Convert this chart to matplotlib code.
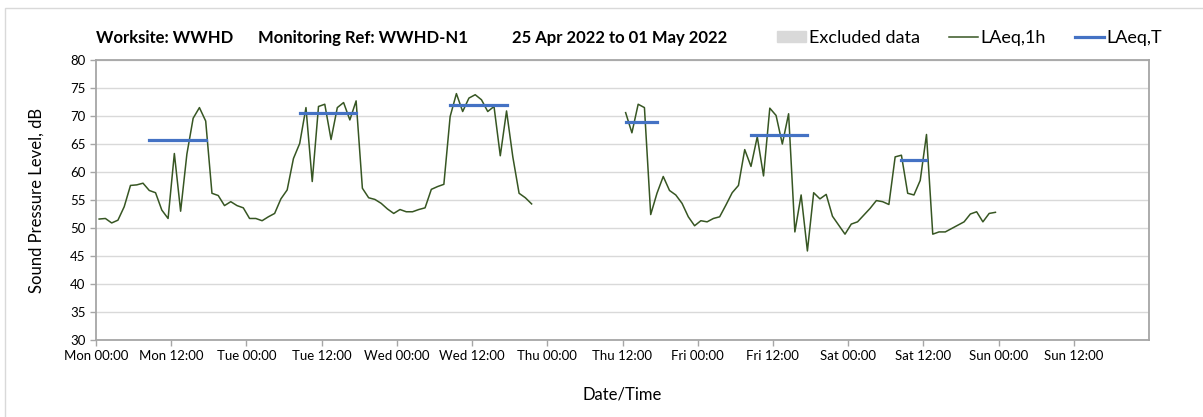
import numpy as np
import matplotlib
matplotlib.use("Agg")
import matplotlib.pyplot as plt
from matplotlib.patches import Patch, Rectangle
from matplotlib.lines import Line2D

plt.rcParams['font.family'] = ['Lato', 'DejaVu Sans']

# hourly LAeq,1h from Mon 25 Apr 2022 00:00 (NaN = no data)
nan = np.nan
laeq_1h = [
    51.6, 51.7, 50.9, 51.4, 53.8, 57.6, 57.7, 58.0, 56.7, 56.3, 53.2, 51.7,
    63.3, 53.0, 63.2, 69.6, 71.5, 69.1, 56.2, 55.8, 54.0, 54.7, 54.0, 53.6,
    51.7, 51.7, 51.3, 52.0, 52.6, 55.2, 56.8, 62.4, 65.1, 71.5, 58.3, 71.7,
    72.1, 65.8, 71.5, 72.4, 69.3, 72.7, 57.1, 55.4, 55.1, 54.4, 53.4, 52.6,
    53.3, 52.9, 52.9, 53.3, 53.6, 56.9, 57.4, 57.8, 69.9, 74.0, 70.8, 73.2,
    73.8, 72.9, 70.8, 71.7, 62.9, 70.9, 62.7, 56.2, 55.4, 54.3, nan, nan,
    nan, nan, nan, nan, nan, nan, nan, nan, nan, nan, nan, nan,
    70.6, 67.0, 72.1, 71.5, 52.4, 56.2, 59.2, 56.7, 55.9, 54.4, 52.0, 50.4,
    51.3, 51.1, 51.7, 52.0, 54.1, 56.3, 57.6, 64.0, 61.0, 66.3, 59.3, 71.4,
    70.1, 65.0, 70.4, 49.3, 55.9, 45.9, 56.3, 55.2, 56.0, 52.1, 50.5, 48.9,
    50.7, 51.1, 52.3, 53.5, 54.9, 54.7, 54.2, 62.7, 63.0, 56.2, 55.9, 58.5,
    66.7, 48.9, 49.3, 49.3, 49.9, 50.5, 51.1, 52.5, 52.9, 51.1, 52.6, 52.8,
]

# LAeq,T periods (hours from Mon 00:00)
laeq_t_start = [8, 32, 56, 84, 104, 128]
laeq_t_end = [18, 42, 66, 90, 114, 133]
laeq_t_level = [65.7, 70.5, 71.9, 69.0, 66.6, 62.2]

tick_labels = ["Mon 00:00", "Mon 12:00", "Tue 00:00", "Tue 12:00", "Wed 00:00",
               "Wed 12:00", "Thu 00:00", "Thu 12:00", "Fri 00:00", "Fri 12:00",
               "Sat 00:00", "Sat 12:00", "Sun 00:00", "Sun 12:00"]

green = "#375623"
blue = "#4472c4"

fig = plt.figure(figsize=(12.03, 4.17), dpi=100)
ax = fig.add_axes([96 / 1203, 77 / 417, 1053 / 1203, 280 / 417])

hours = np.arange(len(laeq_1h)) + 0.5
ax.plot(hours, laeq_1h, color=green, lw=1.1, zorder=3)
for s, e, v in zip(laeq_t_start, laeq_t_end, laeq_t_level):
    ax.plot([s + 0.5, e - 0.5], [v, v], color=blue, lw=2.3,
            solid_capstyle='projecting', zorder=4)

ax.set_xlim(0, 168)
ax.set_ylim(30, 80)
ax.set_yticks(np.arange(30, 81, 5))
ax.set_xticks(np.arange(0, 168, 12))
ax.set_xticklabels(tick_labels)
ax.set_xticks(np.arange(0, 169, 24), minor=True)
ax.tick_params(axis='both', labelsize=9.5, color='#a6a6a6', length=4,
               width=1, direction='out')
ax.tick_params(axis='x', which='minor', length=0)
ax.grid(axis='y', color='#d9d9d9', lw=1)
ax.grid(axis='x', which='minor', color='#d9d9d9', lw=1)
ax.set_axisbelow(True)
for sp in ax.spines.values():
    sp.set_color('#a6a6a6')
    sp.set_linewidth(1.3)

ax.set_ylabel("Sound Pressure Level, dB", fontsize=12, labelpad=18)
ax.set_xlabel("Date/Time", fontsize=12, labelpad=17)

# chart border
fig.patches.append(Rectangle((5 / 1203, -0.2), 1.2, 0.2 + 409 / 417,
                             transform=fig.transFigure, fill=False,
                             edgecolor='#d9d9d9', lw=1))

ty = 1 - 38 / 417
fig.text(96 / 1203, ty, "Worksite: WWHD", fontsize=12, fontweight='bold', va='center')
fig.text(258 / 1203, ty, "Monitoring Ref: WWHD-N1", fontsize=12, fontweight='bold', va='center')
fig.text(512 / 1203, ty, "25 Apr 2022 to 01 May 2022", fontsize=12, fontweight='bold', va='center')

handles = [Patch(color='#d9d9d9', label='Excluded data'),
           Line2D([], [], color=green, lw=1.1, label='LAeq,1h'),
           Line2D([], [], color=blue, lw=2.3, label='LAeq,T')]
fig.legend(handles=handles, ncol=3, frameon=False, fontsize=13,
           loc='center right', bbox_to_anchor=(1162 / 1203, ty),
           handlelength=1.6, handleheight=0.6, handletextpad=0.15,
           columnspacing=1.6, borderpad=0, borderaxespad=0)

fig.savefig("out.png", dpi=100)
